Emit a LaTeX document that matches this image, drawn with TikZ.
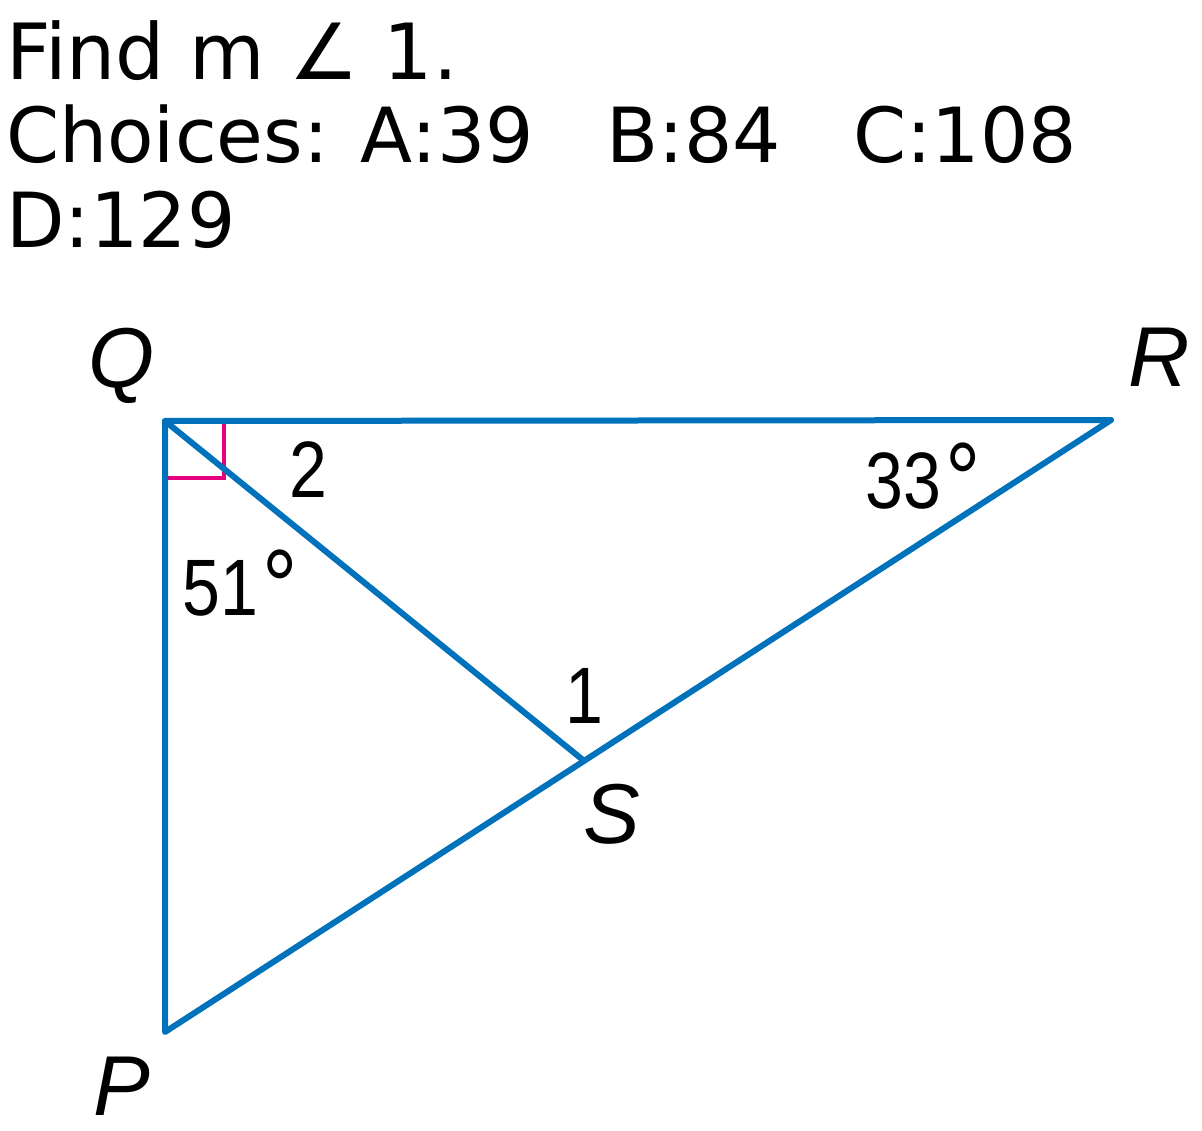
\documentclass[tikz,border=0pt]{standalone}
\usepackage{fontspec}
\setmainfont{DejaVu Sans}
\newfontfamily\labfont{Liberation Sans}
\newfontfamily\numfont{Liberation Sans}[FakeStretch=0.85]
\definecolor{segblue}{RGB}{0,114,188}
\definecolor{markpink}{RGB}{230,0,126}
\newcommand{\bigdeg}{\kern5pt\raisebox{-7pt}{\fontsize{104}{104}\selectfont °}}
\begin{document}
\begin{tikzpicture}[x=1pt,y=-1pt]
\useasboundingbox (0,0) rectangle (1202,1131);
\tikzset{
 titletext/.style={anchor=base west, inner sep=0pt, font=\fontsize{76}{84}\selectfont},
 vlabel/.style={anchor=base west, inner sep=0pt, font=\labfont\itshape\fontsize{85}{85}\selectfont},
 nlabel/.style={anchor=base west, inner sep=0pt, font=\numfont\fontsize{80}{80}\selectfont},
 seg/.style={draw=segblue, line width=6pt, line join=round, line cap=round},
 rmark/.style={draw=markpink, line width=3.5pt}
}
\node[titletext, font=\fontsize{77.5}{84}\selectfont] (t1) at (6,80) {Find m ∠ 1.};
\node[titletext] (t2) at (6,163) {Choices: A:39\ \ \ B:84\ \ \ C:108};
\node[titletext] (t3) at (6,248) {D:129};

\coordinate (Q) at (165,421);
\coordinate (R) at (1111,420);
\coordinate (S) at (583,760);
\coordinate (P) at (165,1032);

\draw[rmark] (165,478) -- (224,478) -- (224,421);
\draw[seg] (Q) -- (R) -- (P) -- cycle;
\draw[seg] (Q) -- (S);

\node[vlabel] (lQ) at (88,388) {Q};
\node[vlabel] (lR) at (1128,387) {R};
\node[vlabel] (lP) at (93,1115) {P};
\node[vlabel] (lS) at (583,843) {S};

\node[nlabel] (n2) at (289,497) {2};
\node[nlabel] (n51) at (182,615) {51\bigdeg};
\node[nlabel] (n33) at (865,508) {33\bigdeg};
\node[nlabel] (n1) at (565,723) {1};
\end{tikzpicture}
\end{document}
